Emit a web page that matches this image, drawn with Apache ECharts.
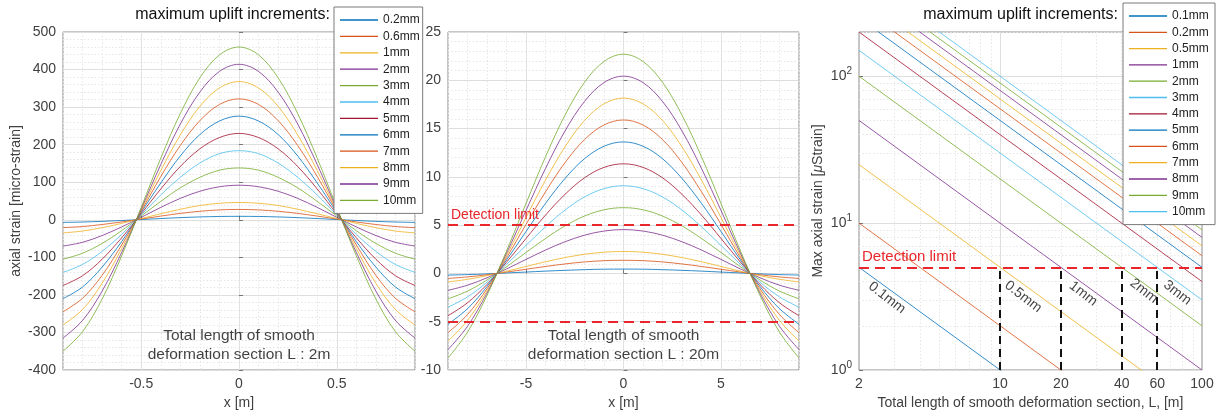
<!DOCTYPE html>
<html>
<head>
<meta charset="utf-8">
<script src="https://cdn.jsdelivr.net/npm/echarts@6/dist/echarts.min.js"></script>
<style>
  html, body { margin: 0; padding: 0; background: #fff; }
  #chart { width: 1220px; height: 416px; }
</style>
</head>
<body>
<div id="chart"></div>
<script>
// ---- left panel: L = 2 m ----
var xShort = [-0.9, -0.8, -0.7, -0.6, -0.5, -0.4, -0.3, -0.2, -0.1, 0, 0.1, 0.2, 0.3, 0.4, 0.5, 0.6, 0.7, 0.8, 0.9];
var upliftShort = ['0.2mm', '0.6mm', '1mm', '2mm', '3mm', '4mm', '5mm', '6mm', '7mm', '8mm', '9mm', '10mm'];
var strainShort = [
  [-7.0, -6.0, -4.2, -1.9, 0.7, 3.3, 5.7, 7.6, 8.8, 9.2, 8.8, 7.6, 5.7, 3.3, 0.7, -1.9, -4.2, -6.0, -7.0],
  [-21.0, -17.9, -12.6, -5.8, 2.0, 9.8, 17.0, 22.7, 26.3, 27.6, 26.3, 22.7, 17.0, 9.8, 2.0, -5.8, -12.6, -17.9, -21.0],
  [-35, -30, -21, -9.6, 3.3, 16, 28, 38, 44, 46, 44, 38, 28, 16, 3.3, -9.6, -21, -30, -35],
  [-70, -60, -42, -19, 6.5, 33, 57, 76, 88, 92, 88, 76, 57, 33, 6.5, -19, -42, -60, -70],
  [-105, -89, -63, -29, 10, 49, 85, 113, 132, 138, 132, 113, 85, 49, 10, -29, -63, -89, -105],
  [-140, -119, -84, -39, 13, 66, 113, 151, 176, 184, 176, 151, 113, 66, 13, -39, -84, -119, -140],
  [-175, -149, -105, -48, 16, 82, 142, 189, 219, 230, 219, 189, 142, 82, 16, -48, -105, -149, -175],
  [-210, -179, -126, -58, 20, 98, 170, 227, 263, 276, 263, 227, 170, 98, 20, -58, -126, -179, -210],
  [-245, -209, -148, -67, 23, 115, 198, 264, 307, 322, 307, 264, 198, 115, 23, -67, -148, -209, -245],
  [-280, -239, -169, -77, 26, 131, 226, 302, 351, 368, 351, 302, 226, 131, 26, -77, -169, -239, -280],
  [-315, -268, -190, -87, 29, 147, 255, 340, 395, 414, 395, 340, 255, 147, 29, -87, -190, -268, -315],
  [-350, -298, -211, -96, 33, 164, 283, 378, 439, 460, 439, 378, 283, 164, 33, -96, -211, -298, -350]
];
var shortMajor = [-0.5, 0, 0.5];
var noteShort = [[0, -335, 'Total length of smooth\ndeformation section L : 2m']];

// ---- middle panel: L = 20 m ----
var xLong = [-9, -8, -7, -6, -5, -4, -3, -2, -1, 0, 1, 2, 3, 4, 5, 6, 7, 8, 9];
var strainLong = [
  [-0.17, -0.12, -0.05, 0.05, 0.14, 0.24, 0.32, 0.39, 0.44, 0.45, 0.44, 0.39, 0.32, 0.24, 0.14, 0.05, -0.05, -0.12, -0.17],
  [-0.52, -0.36, -0.14, 0.14, 0.43, 0.72, 0.98, 1.19, 1.32, 1.36, 1.32, 1.19, 0.98, 0.72, 0.43, 0.14, -0.14, -0.36, -0.52],
  [-0.88, -0.61, -0.23, 0.23, 0.72, 1.21, 1.64, 1.98, 2.20, 2.27, 2.20, 1.98, 1.64, 1.21, 0.72, 0.23, -0.23, -0.61, -0.88],
  [-1.75, -1.22, -0.45, 0.46, 1.45, 2.42, 3.28, 3.96, 4.39, 4.54, 4.39, 3.96, 3.28, 2.42, 1.45, 0.46, -0.45, -1.22, -1.75],
  [-2.63, -1.83, -0.68, 0.69, 2.17, 3.62, 4.92, 5.94, 6.59, 6.81, 6.59, 5.94, 4.92, 3.62, 2.17, 0.69, -0.68, -1.83, -2.63],
  [-3.50, -2.43, -0.91, 0.93, 2.90, 4.83, 6.56, 7.92, 8.78, 9.08, 8.78, 7.92, 6.56, 4.83, 2.90, 0.93, -0.91, -2.43, -3.50],
  [-4.38, -3.04, -1.14, 1.16, 3.62, 6.04, 8.19, 9.90, 10.98, 11.35, 10.98, 9.90, 8.19, 6.04, 3.62, 1.16, -1.14, -3.04, -4.38],
  [-5.26, -3.65, -1.36, 1.39, 4.34, 7.25, 9.83, 11.88, 13.17, 13.62, 13.17, 11.88, 9.83, 7.25, 4.34, 1.39, -1.36, -3.65, -5.26],
  [-6.13, -4.26, -1.59, 1.62, 5.07, 8.45, 11.47, 13.86, 15.37, 15.89, 15.37, 13.86, 11.47, 8.45, 5.07, 1.62, -1.59, -4.26, -6.13],
  [-7.01, -4.87, -1.82, 1.85, 5.79, 9.66, 13.11, 15.84, 17.56, 18.16, 17.56, 15.84, 13.11, 9.66, 5.79, 1.85, -1.82, -4.87, -7.01],
  [-7.89, -5.48, -2.04, 2.08, 6.52, 10.87, 14.75, 17.81, 19.76, 20.43, 19.76, 17.81, 14.75, 10.87, 6.52, 2.08, -2.04, -5.48, -7.89],
  [-8.76, -6.08, -2.27, 2.32, 7.24, 12.08, 16.39, 19.79, 21.95, 22.70, 21.95, 19.79, 16.39, 12.08, 7.24, 2.32, -2.27, -6.08, -8.76]
];
var longMajor = [-5, 0, 5];
var noteLong = [[0, -7.4, 'Total length of smooth\ndeformation section L : 20m']];
var detectLimit = 5;

// ---- right panel: max strain vs L ----
var lengthEnds = [2, 100];
var upliftMax = ['0.1mm', '0.2mm', '0.5mm', '1mm', '2mm', '3mm', '4mm', '5mm', '6mm', '7mm', '8mm', '9mm', '10mm'];
var strainAt2 = [5, 10, 25, 50, 100, 150, 200, 250, 300, 350, 400, 450, 500];
var strainAt100 = [0.1, 0.2, 0.5, 1, 2, 3, 4, 5, 6, 7, 8, 9, 10];
var detectL = [10, 20, 40, 60];
var lineNotes = [[2.75, 3.1, '0.1mm'], [13, 3.15, '0.5mm'], [25.8, 3.3, '1mm'], [51.5, 3.45, '2mm'], [75.5, 3.35, '3mm']];
var lTicks = [2, 10, 20, 40, 60, 100];
var lMinor = [3, 4, 5, 6, 7, 8, 9, 20, 30, 40, 50, 60, 70, 80, 90];
var sTicks = [1, 10, 100];
var sMinor = [2, 3, 4, 5, 6, 7, 8, 9, 20, 30, 40, 50, 60, 70, 80, 90, 200];

var colors = ['#0072BD', '#D95319', '#EDB120', '#7E2F8E', '#77AC30', '#4DBEEE', '#A2142F'];
var FONT = '"Liberation Sans", Arial, sans-serif';
var TXT = '#404040';
var MAJOR = '#dedede';
var MINOR = '#e6e6e6';

function curves(names, xs, rows, xi, yi) {
  return rows.map(function (row, i) {
    var c = colors[i % colors.length];
    return {
      name: names[i], type: 'line', xAxisIndex: xi, yAxisIndex: yi,
      data: xs.map(function (x, j) { return [x, row[j]]; }),
      smooth: 0.35, symbol: 'none', silent: true,
      itemStyle: { color: c }, lineStyle: { color: c, width: 1, opacity: 0.8 }
    };
  });
}

var maxSeries = upliftMax.map(function (name, i) {
  var c = colors[i % colors.length];
  return {
    name: name + '\u00a0', type: 'line', xAxisIndex: 4, yAxisIndex: 2,
    data: [[lengthEnds[0], strainAt2[i]], [lengthEnds[1], strainAt100[i]]],
    symbol: 'none', silent: true, clip: true,
    itemStyle: { color: c }, lineStyle: { color: c, width: 1, opacity: 0.8 }
  };
});

function noteSeries(data, xi, yi, extra) {
  return {
    type: 'scatter', xAxisIndex: xi, yAxisIndex: yi, symbolSize: 0, silent: true,
    data: data,
    label: Object.assign({
      show: true, position: 'inside', formatter: function (p) { return p.value[2]; },
      color: '#111', fontFamily: FONT, fontSize: 15.5, lineHeight: 19, align: 'center'
    }, extra || {}),
    z: 5
  };
}

function valueAxis(grid, min, max, interval, name, extra) {
  return Object.assign({
    type: 'value', gridIndex: grid, min: min, max: max, interval: interval,
    name: name, nameLocation: 'middle',
    nameTextStyle: { color: TXT, fontFamily: FONT, fontSize: 14 },
    axisLine: { show: false },
    axisTick: { show: true, inside: true, length: 4, lineStyle: { color: '#777' } },
    axisLabel: { color: TXT, fontFamily: FONT, fontSize: 14, margin: 7 },
    splitLine: { show: true, lineStyle: { color: MAJOR, width: 1 } }
  }, extra);
}

function minorAxis(type, grid, min, max, pos, extra) {
  return Object.assign({
    type: type, gridIndex: grid, min: min, max: max, position: pos,
    axisLine: { show: false }, axisTick: { show: false }, axisLabel: { show: false },
    splitLine: { show: true, lineStyle: { color: MINOR, type: [1.5, 2], width: 1 } }
  }, extra);
}

function legendBox(names, left, top, gap) {
  return {
    data: names, orient: 'vertical', left: left, top: top,
    padding: [6, 3, 6, 6], icon: 'rect', itemWidth: 38, itemHeight: 1.3, itemGap: gap,
    backgroundColor: '#fff', borderColor: '#7a7a7a', borderWidth: 1, borderRadius: 0,
    textStyle: { fontFamily: FONT, fontSize: 12, color: '#222', lineHeight: 14 },
    selectedMode: false
  };
}

var gridBase = { show: true, backgroundColor: '#fff', borderColor: '#8c8c8c', borderWidth: 1 };

var chart = echarts.init(document.getElementById('chart'));
chart.setOption({
  animation: false,
  backgroundColor: '#fff',
  textStyle: { fontFamily: FONT },
  title: [
    { text: 'maximum uplift increments:', right: 890, top: 7, padding: 0,
      textStyle: { fontFamily: FONT, fontSize: 16, fontWeight: 'normal', color: '#111' } },
    { text: 'maximum uplift increments:', right: 102, top: 7, padding: 0,
      textStyle: { fontFamily: FONT, fontSize: 16, fontWeight: 'normal', color: '#111' } }
  ],
  legend: [
    legendBox(upliftShort, 334, 7, 2.4),
    legendBox(upliftMax.map(function (n) { return n + '\u00a0'; }), 1123, 3, 2.3)
  ],
  grid: [
    Object.assign({ left: 63, top: 32, width: 352, height: 338 }, gridBase),
    Object.assign({ left: 448, top: 32, width: 351, height: 338 }, gridBase),
    Object.assign({ left: 859, top: 32, width: 343, height: 338 }, gridBase)
  ],
  xAxis: [
    valueAxis(0, -0.9, 0.9, null, 'x [m]', {
      nameGap: 26,
      axisTick: { show: true, inside: true, length: 4, customValues: shortMajor, lineStyle: { color: '#777' } },
      axisLabel: { color: TXT, fontFamily: FONT, fontSize: 14, margin: 7, customValues: shortMajor }
    }),
    minorAxis('value', 0, -0.9, 0.9, 'top', { interval: 0.1 }),
    valueAxis(1, -9, 9, null, 'x [m]', {
      nameGap: 26,
      axisTick: { show: true, inside: true, length: 4, customValues: longMajor, lineStyle: { color: '#777' } },
      axisLabel: { color: TXT, fontFamily: FONT, fontSize: 14, margin: 7, customValues: longMajor }
    }),
    minorAxis('value', 1, -9, 9, 'top', { interval: 1 }),
    valueAxis(2, 2, 100, null, 'Total length of smooth deformation section, L, [m]', {
      type: 'log', logBase: 10, nameGap: 26,
      axisTick: { show: true, inside: true, length: 4, customValues: [10], lineStyle: { color: '#777' } },
      axisLabel: { color: TXT, fontFamily: FONT, fontSize: 14, margin: 7, customValues: lTicks }
    }),
    minorAxis('log', 2, 2, 100, 'top', { logBase: 10, axisTick: { show: false, customValues: lMinor } })
  ],
  yAxis: [
    valueAxis(0, -400, 500, 100, 'axial strain [micro-strain]', {
      nameGap: 40,
      minorTick: { show: false, splitNumber: 5 },
      minorSplitLine: { show: true, lineStyle: { color: MINOR, type: [1.5, 2] } }
    }),
    valueAxis(1, -10, 25, 5, '', {
      minorTick: { show: false, splitNumber: 5 },
      minorSplitLine: { show: true, lineStyle: { color: MINOR, type: [1.5, 2] } }
    }),
    valueAxis(2, 1, 200, null, 'Max axial strain [{i|\u03bc}Strain]', {
      type: 'log', logBase: 10, nameGap: 34,
      nameTextStyle: { color: TXT, fontFamily: FONT, fontSize: 14, rich: { i: { fontStyle: 'italic', fontSize: 14, color: TXT, fontFamily: FONT } } },
      axisTick: { show: true, inside: true, length: 4, customValues: sTicks, lineStyle: { color: '#777' } },
      axisLabel: {
        color: TXT, fontFamily: FONT, fontSize: 14, margin: 7, customValues: sTicks,
        formatter: function (v) { return '10{e|' + Math.round(Math.log10(v)) + '}'; },
        rich: { e: { fontSize: 10, color: TXT, fontFamily: FONT, padding: [0, 0, 9, 0] } }
      }
    }),
    minorAxis('log', 2, 1, 200, 'right', { logBase: 10, axisTick: { show: false, customValues: sMinor } })
  ],
  series: []
    .concat(curves(upliftShort, xShort, strainShort, 0, 0))
    .concat(curves(upliftShort, xLong, strainLong, 2, 1))
    .concat(maxSeries)
    .concat([
      noteSeries(noteShort, 0, 0),
      Object.assign(noteSeries(noteLong, 2, 1), {
        markLine: {
          silent: true, symbol: ['none', 'none'], animation: false,
          lineStyle: { color: '#e8262b', type: [10, 6], width: 2 },
          label: { show: false },
          data: [
            { yAxis: detectLimit, label: { show: true, formatter: 'Detection limit', position: 'insideStartTop',
              color: '#e8262b', fontFamily: FONT, fontSize: 14, distance: 3 } },
            { yAxis: -detectLimit }
          ]
        }
      }),
      Object.assign(noteSeries(lineNotes, 4, 2, { rotate: -38, fontSize: 14 }), {
        markLine: {
          silent: true, symbol: ['none', 'none'], animation: false,
          label: { show: false },
          data: [
            { yAxis: detectLimit, lineStyle: { color: '#e8262b', type: [10, 6], width: 2 },
              label: { show: true, formatter: 'Detection limit', position: 'insideStartTop',
                color: '#e8262b', fontFamily: FONT, fontSize: 15, distance: 3 } }
          ].concat(detectL.map(function (L) {
            return [
              { coord: [L, 1], lineStyle: { color: '#111', type: [8, 5], width: 2 } },
              { coord: [L, detectLimit] }
            ];
          }))
        }
      })
    ])
});
</script>
</body>
</html>
